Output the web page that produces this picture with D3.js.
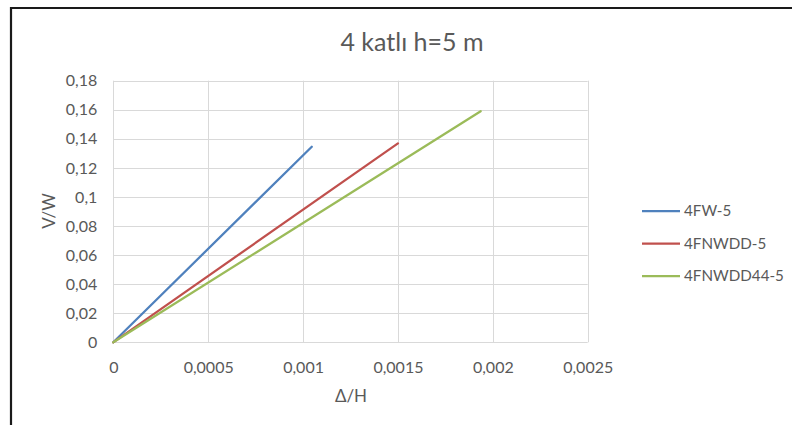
<!DOCTYPE html>
<html>
<head>
<meta charset="utf-8">
<script src="https://cdn.jsdelivr.net/npm/d3@7"></script>
<style>
  html, body { margin: 0; padding: 0; background: #fff; }
  svg { display: block; font-family: Lato, "Open Sans", sans-serif; }
</style>
</head>
<body>
<svg id="chart" width="792" height="425"></svg>
<script>
// Drift ratio (Δ/H) against base shear ratio (V/W) for each frame model
const seriesNames = ["4FW-5", "4FNWDD-5", "4FNWDD44-5"];
const seriesColors = ["#4F81BD", "#C0504D", "#9BBB59"];
const driftValues = [
  [0, 0.001046],
  [0, 0.0015],
  [0, 0.001936]
];
const shearValues = [
  [0, 0.1346],
  [0, 0.1369],
  [0, 0.1590]
];
const xTicks = [0, 0.0005, 0.001, 0.0015, 0.002, 0.0025];
const yTicks = [0, 0.02, 0.04, 0.06, 0.08, 0.1, 0.12, 0.14, 0.16, 0.18];

const svg = d3.select("#chart");
const fmt = v => String(v).replace(".", ",");
const textColor = "#595959";

// frame around the chart
svg.append("line").attr("x1", 10).attr("x2", 792).attr("y1", 8).attr("y2", 8)
  .attr("stroke", "#1a1a1a").attr("stroke-width", 2.2);
svg.append("line").attr("x1", 11).attr("x2", 11).attr("y1", 7).attr("y2", 425)
  .attr("stroke", "#1a1a1a").attr("stroke-width", 2.2);

const x = d3.scaleLinear().domain([0, 0.0025]).range([113.3, 587.7]);
const y = d3.scaleLinear().domain([0, 0.18]).range([342.3, 80.7]);

// gridlines
const grid = svg.append("g");
grid.selectAll("line.h").data(yTicks).join("line")
  .attr("x1", x(0)).attr("x2", x(0.0025))
  .attr("y1", d => Math.round(y(d)) + 0.5).attr("y2", d => Math.round(y(d)) + 0.5)
  .attr("stroke", "#D9D9D9").attr("stroke-width", 1);
grid.selectAll("line.v").data(xTicks).join("line")
  .attr("y1", y(0)).attr("y2", y(0.18))
  .attr("x1", d => Math.round(x(d)) + 0.5).attr("x2", d => Math.round(x(d)) + 0.5)
  .attr("stroke", "#D9D9D9").attr("stroke-width", 1);

// axes (labels only)
const xAxis = svg.append("g").attr("transform", `translate(0,${y(0) + 19})`)
  .call(d3.axisBottom(x).tickValues(xTicks).tickFormat(fmt).tickSize(0));
xAxis.select(".domain").remove();
xAxis.selectAll("text").attr("fill", textColor).attr("font-size", 16)
  .attr("font-family", "Lato, sans-serif").attr("y", 0).attr("dy", "0.71em");

const yAxis = svg.append("g").attr("transform", `translate(${x(0) - 16},0)`)
  .call(d3.axisLeft(y).tickValues(yTicks).tickFormat(fmt).tickSize(0));
yAxis.select(".domain").remove();
yAxis.selectAll("text").attr("fill", textColor).attr("font-size", 16)
  .attr("font-family", "Lato, sans-serif").attr("x", 0);

// titles
svg.append("text").attr("x", 412).attr("y", 51).attr("text-anchor", "middle")
  .attr("fill", textColor).attr("font-size", 25).text("4 katlı h=5 m");
svg.append("text").attr("x", 351).attr("y", 402).attr("text-anchor", "middle")
  .attr("fill", textColor).attr("font-size", 17).text("Δ/H");
svg.append("text").attr("transform", "translate(55,211) rotate(-90)")
  .attr("text-anchor", "middle").attr("fill", textColor).attr("font-size", 17).text("V/W");

// series lines
const line = d3.line().x(d => x(d[0])).y(d => y(d[1]));
seriesNames.forEach((name, i) => {
  const pts = driftValues[i].map((d, j) => [d, shearValues[i][j]]);
  svg.append("path").datum(pts).attr("d", line)
    .attr("fill", "none").attr("stroke", seriesColors[i])
    .attr("stroke-width", 2.25).attr("stroke-linecap", "round");
});

// legend
const legend = svg.append("g");
const legendY = [211, 243.5, 276];
seriesNames.forEach((name, i) => {
  legend.append("line").attr("x1", 642).attr("x2", 680)
    .attr("y1", legendY[i]).attr("y2", legendY[i])
    .attr("stroke", seriesColors[i]).attr("stroke-width", 2.25);
  legend.append("text").attr("x", 684).attr("y", legendY[i]).attr("dy", "0.36em")
    .attr("fill", textColor).attr("font-size", 15.2).text(name);
});
</script>
</body>
</html>
